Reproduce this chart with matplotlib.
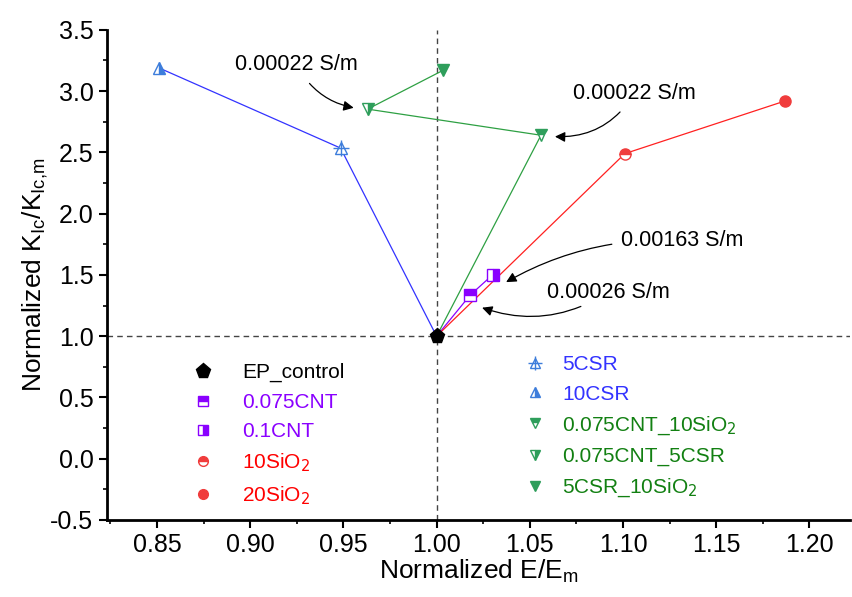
import matplotlib.pyplot as plt
from matplotlib.lines import Line2D
from matplotlib.ticker import MultipleLocator

plt.rcParams['font.family'] = ['Liberation Sans', 'DejaVu Sans']
plt.rcParams['axes.unicode_minus'] = False

# data (normalized E, normalized K_Ic)
ctrl = (1.00, 1.00)
csr_x = [1.00, 0.9485, 0.851]
csr_y = [1.00, 2.535, 3.19]
cnt_x = [1.00, 1.018, 1.030]
cnt_y = [1.00, 1.335, 1.50]
sio2_x = [1.00, 1.101, 1.187]
sio2_y = [1.00, 2.49, 2.92]
hyb_x = [1.00, 1.056, 0.963, 1.0035]
hyb_y = [1.00, 2.64, 2.853, 3.17]

blue_line = '#3333ff'
blue_mk = '#3d7ddb'
purple = '#8a00ff'
red_line = '#ff2020'
red_mk = '#f03c3c'
green_line = '#2ea043'
green_mk = '#2e9e5b'
green_txt = '#128012'

fig = plt.figure(figsize=(8.53, 5.97), dpi=100)
ax = fig.add_axes([0.125, 0.129, 0.872, 0.821])

ax.axhline(1.0, color='#444444', ls=(0, (4, 3)), lw=1.0, zorder=1)
ax.axvline(1.0, color='#444444', ls=(0, (4, 3)), lw=1.0, zorder=1)

ax.plot(csr_x, csr_y, color=blue_line, lw=0.9, zorder=2)
ax.plot(cnt_x, cnt_y, color=purple, lw=0.9, zorder=2)
ax.plot(sio2_x, sio2_y, color=red_line, lw=0.9, zorder=2)
ax.plot(hyb_x, hyb_y, color=green_line, lw=0.9, zorder=2)

ms = 8
# markers
mk = dict(ls='none', ms=ms, markeredgewidth=1.0)
ax.plot([ctrl[0]], [ctrl[1]], marker='p', color='black', ms=11, ls='none', zorder=5)
ax.plot([csr_x[1]], [csr_y[1]], marker='^', mfc='white', mec=blue_mk, zorder=4, **mk)
ax.plot([csr_x[1]], [csr_y[1]], marker='+', color=blue_mk, ls='none', ms=ms + 3, zorder=4)
ax.plot([csr_x[2]], [csr_y[2]], marker='^', fillstyle='right', color=blue_mk,
        markerfacecoloralt='white', zorder=4, **mk)
ax.plot([cnt_x[1]], [cnt_y[1]], marker='s', fillstyle='top', color=purple,
        markerfacecoloralt='white', zorder=4, **mk)
ax.plot([cnt_x[2]], [cnt_y[2]], marker='s', fillstyle='right', color=purple,
        markerfacecoloralt='white', zorder=4, **mk)
ax.plot([sio2_x[1]], [sio2_y[1]], marker='o', fillstyle='top', color=red_mk,
        markerfacecoloralt='white', zorder=4, **mk)
ax.plot([sio2_x[2]], [sio2_y[2]], marker='o', color=red_mk, zorder=4, **mk)
ax.plot([hyb_x[1]], [hyb_y[1]], marker='v', fillstyle='top', color=green_mk,
        markerfacecoloralt='white', zorder=4, **mk)
ax.plot([hyb_x[2]], [hyb_y[2]], marker='v', fillstyle='right', color=green_mk,
        markerfacecoloralt='white', zorder=4, **mk)
ax.plot([hyb_x[3]], [hyb_y[3]], marker='v', color=green_mk, zorder=4, **mk)

# conductivity annotations
arr = dict(arrowstyle='-|>', color='black', lw=0.9, mutation_scale=15)
fs_ann = 15.5
ax.annotate('0.00022 S/m', xy=(0.957, 2.86), xytext=(0.925, 3.215), fontsize=fs_ann,
            ha='center', va='center',
            arrowprops=dict(connectionstyle='arc3,rad=0.25', shrinkA=5, shrinkB=2, **arr))
ax.annotate('0.00022 S/m', xy=(1.062, 2.63), xytext=(1.106, 2.98), fontsize=fs_ann,
            ha='center', va='center',
            arrowprops=dict(connectionstyle='arc3,rad=-0.3', shrinkA=5, shrinkB=2, **arr))
ax.annotate('0.00163 S/m', xy=(1.036, 1.43), xytext=(1.132, 1.78), fontsize=fs_ann,
            ha='center', va='center',
            arrowprops=dict(connectionstyle='arc3,rad=0.15', shrinkA=5, shrinkB=2, **arr))
ax.annotate('0.00026 S/m', xy=(1.023, 1.24), xytext=(1.092, 1.36), fontsize=fs_ann,
            ha='center', va='center',
            arrowprops=dict(connectionstyle='arc3,rad=-0.25', shrinkA=2, shrinkB=2, **arr))

# legends
def h(size=7, **kw):
    return Line2D([], [], ls='none', ms=size, markeredgewidth=1.0, **kw)

left_h = [h(marker='p', color='black', size=11),
          h(marker='s', fillstyle='top', color=purple, markerfacecoloralt='white'),
          h(marker='s', fillstyle='right', color=purple, markerfacecoloralt='white'),
          h(marker='o', fillstyle='top', color=red_mk, markerfacecoloralt='white'),
          h(marker='o', color=red_mk)]
left_l = ['EP_control', '0.075CNT', '0.1CNT', '10SiO$_2$', '20SiO$_2$']
left_c = ['black', purple, purple, 'red', 'red']

right_h = [(h(marker='^', mfc='white', mec=blue_mk), h(marker='+', color=blue_mk, size=10)),
           h(marker='^', fillstyle='right', color=blue_mk, markerfacecoloralt='white'),
           h(marker='v', fillstyle='top', color=green_mk, markerfacecoloralt='white'),
           h(marker='v', fillstyle='right', color=green_mk, markerfacecoloralt='white'),
           h(marker='v', color=green_mk)]
right_l = ['5CSR', '10CSR', '0.075CNT_10SiO$_2$', '0.075CNT_5CSR', '5CSR_10SiO$_2$']
right_c = [blue_line, blue_line, green_txt, green_txt, green_txt]

leg1 = ax.legend(left_h, left_l, loc='upper left', bbox_to_anchor=(0.09, 0.337),
                 frameon=False, fontsize=15, handletextpad=0.9, labelspacing=0.5,
                 borderaxespad=0)
for t, c in zip(leg1.get_texts(), left_c):
    t.set_color(c)
ax.add_artist(leg1)
leg2 = ax.legend(right_h, right_l, loc='upper left', bbox_to_anchor=(0.537, 0.353),
                 frameon=False, fontsize=15, handletextpad=0.3, labelspacing=0.5,
                 borderaxespad=0)
for t, c in zip(leg2.get_texts(), right_c):
    t.set_color(c)

ax.set_xlim(0.823, 1.222)
ax.set_ylim(-0.5, 3.5)
ax.xaxis.set_minor_locator(MultipleLocator(0.025))
ax.yaxis.set_major_locator(MultipleLocator(0.5))
ax.yaxis.set_minor_locator(MultipleLocator(0.25))
ax.set_xticks([0.85, 0.90, 0.95, 1.00, 1.05, 1.10, 1.15, 1.20])
ax.set_xticklabels(['0.85', '0.90', '0.95', '1.00', '1.05', '1.10', '1.15', '1.20'])
ax.tick_params(which='major', direction='out', length=6, width=1.5, labelsize=18)
ax.tick_params(which='minor', direction='out', length=3, width=1.2)
for s in ['top', 'right']:
    ax.spines[s].set_visible(False)
for s in ['left', 'bottom']:
    ax.spines[s].set_linewidth(2)

ax.set_xlabel('Normalized E/E$_\\mathregular{m}$', fontsize=19, labelpad=0)
ax.set_ylabel('Normalized K$_\\mathregular{Ic}$/K$_\\mathregular{Ic{,}m}$', fontsize=19, labelpad=0)

fig.savefig('out.png', dpi=100)
